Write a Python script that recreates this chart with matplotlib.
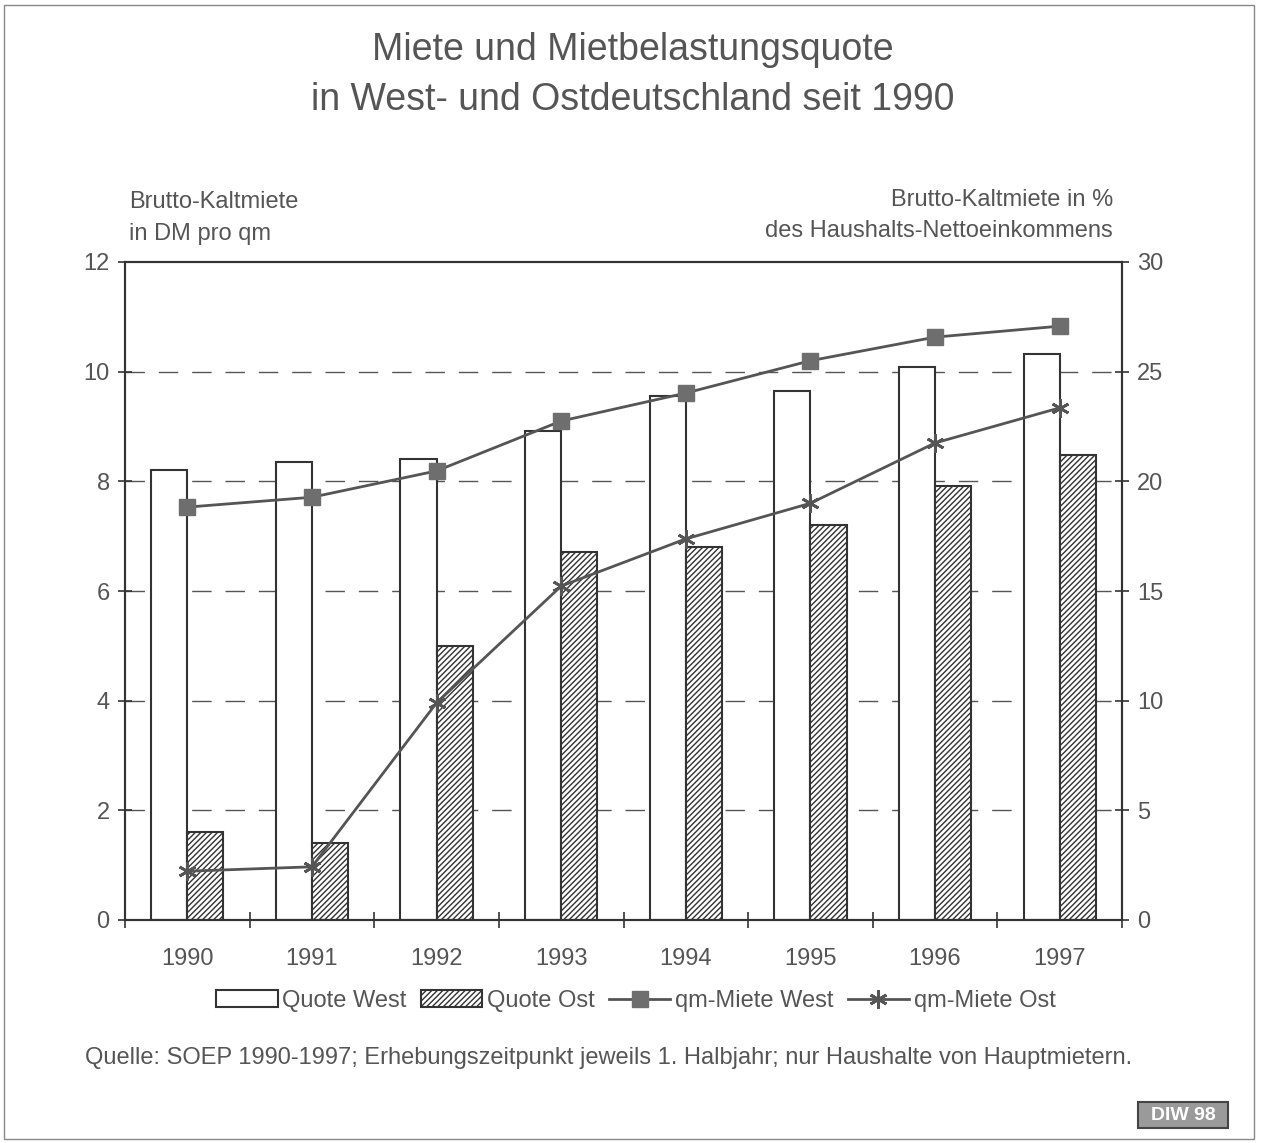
import matplotlib
matplotlib.use("Agg")
import matplotlib.pyplot as plt
import numpy as np
from matplotlib.patches import Rectangle

plt.rcParams['font.family'] = ['Liberation Sans', 'DejaVu Sans']
plt.rcParams['hatch.linewidth'] = 1.0

years = ["1990", "1991", "1992", "1993", "1994", "1995", "1996", "1997"]
quote_west = [20.5, 20.9, 21.0, 22.3, 23.9, 24.1, 25.2, 25.8]
quote_ost = [4.0, 3.5, 12.5, 16.8, 17.0, 18.0, 19.8, 21.2]
miete_west = [7.53, 7.71, 8.19, 9.10, 9.61, 10.20, 10.63, 10.83]
miete_ost = [0.89, 0.97, 3.96, 6.09, 6.95, 7.60, 8.70, 9.34]

txt = '#555555'
fig = plt.figure(figsize=(12.66, 11.43), dpi=100)
ax = fig.add_axes([125/1266, 1-920/1143, (1122-125)/1266, (920-262)/1143])
x = np.arange(len(years))
w = 0.29
ax.bar(x - w/2, quote_west, w, color='white', edgecolor='#333333', linewidth=1.5, zorder=2,
       label='Quote West')
ax.bar(x + w/2, quote_ost, w, color='white', edgecolor='#333333', hatch='//////', linewidth=1.5,
       zorder=2, label='Quote Ost')
ax.set_ylim(0, 30)
ax.set_xlim(-0.5, 7.5)
for y in [5, 10, 15, 20, 25]:
    ax.axhline(y, color='#555555', lw=1.0, dashes=(14, 10), zorder=1)
ax.set_xticks(np.arange(-0.5, 8, 1))
ax.set_xticklabels([])
ax.set_xticks(x, minor=True)
ax.set_xticklabels(years, minor=True)
ax.tick_params(axis='x', which='major', direction='inout', length=12, width=1.2, colors='#333333')
ax.tick_params(axis='x', which='minor', length=0, labelsize=17, labelcolor=txt, pad=20)
for s in ax.spines.values():
    s.set_color('#333333')
    s.set_linewidth(1.5)

ax2 = ax.twinx()
ax.yaxis.tick_right()
ax.set_yticks([0, 5, 10, 15, 20, 25, 30])
ax.tick_params(axis='y', direction='inout', length=10, width=1.2, colors='#333333',
               labelcolor=txt, labelsize=17, pad=6)
ax2.yaxis.tick_left()
ax2.set_ylim(0, 12)
ax2.set_yticks([0, 2, 4, 6, 8, 10, 12])
ax2.tick_params(axis='y', direction='inout', length=10, width=1.2, colors='#333333',
                labelcolor=txt, labelsize=17, pad=6)
ax2.plot(x, miete_west, color='#555555', lw=2, marker='s', markersize=11,
         markerfacecolor='#6e6e6e', markeredgecolor='#6e6e6e', zorder=5, label='qm-Miete West')
ax2.plot(x, miete_ost, color='#555555', lw=2, marker=(6, 2, 0), markersize=13,
         markeredgewidth=2, markeredgecolor='#555555', zorder=5, label='qm-Miete Ost')
for s in ax2.spines.values():
    s.set_color('#333333')
    s.set_linewidth(1.5)

fig.text(0.5, 1-50/1143, "Miete und Mietbelastungsquote", ha='center', va='center',
         fontsize=27, color=txt)
fig.text(0.5, 1-100/1143, "in West- und Ostdeutschland seit 1990", ha='center', va='center',
         fontsize=27, color=txt)
fig.text(129/1266, 1-202/1143, "Brutto-Kaltmiete", ha='left', va='center', fontsize=17, color=txt)
fig.text(129/1266, 1-234/1143, "in DM pro qm", ha='left', va='center', fontsize=17, color=txt)
fig.text(1113/1266, 1-200/1143, "Brutto-Kaltmiete in %", ha='right', va='center', fontsize=17, color=txt)
fig.text(1113/1266, 1-231/1143, "des Haushalts-Nettoeinkommens", ha='right', va='center', fontsize=17, color=txt)

h1, l1 = ax.get_legend_handles_labels()
h2, l2 = ax2.get_legend_handles_labels()
leg = fig.legend(h1 + h2, l1 + l2, loc='center', bbox_to_anchor=(636/1266, 1-1001/1143), ncol=4,
                 frameon=False, fontsize=17, handlelength=2.6, handletextpad=0.2,
                 columnspacing=0.6, labelcolor=txt)

fig.text(85/1266, 1-1058/1143,
         "Quelle: SOEP 1990-1997; Erhebungszeitpunkt jeweils 1. Halbjahr; nur Haushalte von Hauptmietern.",
         ha='left', va='center', fontsize=17, color=txt)

fig.patches.append(Rectangle((1138/1266, 1-1128/1143), 90/1266, 26/1143, transform=fig.transFigure,
                             facecolor='#9a9a9a', edgecolor='#444444', lw=1.5))
fig.text(1183/1266, 1-1115/1143, "DIW 98", ha='center', va='center', fontsize=14,
         color='white', fontweight='bold')
fig.patches.append(Rectangle((4/1266, 4/1143), 1250/1266, 1134/1143, transform=fig.transFigure,
                             facecolor='none', edgecolor='#888888', lw=1))

fig.savefig("out.png", dpi=100)
